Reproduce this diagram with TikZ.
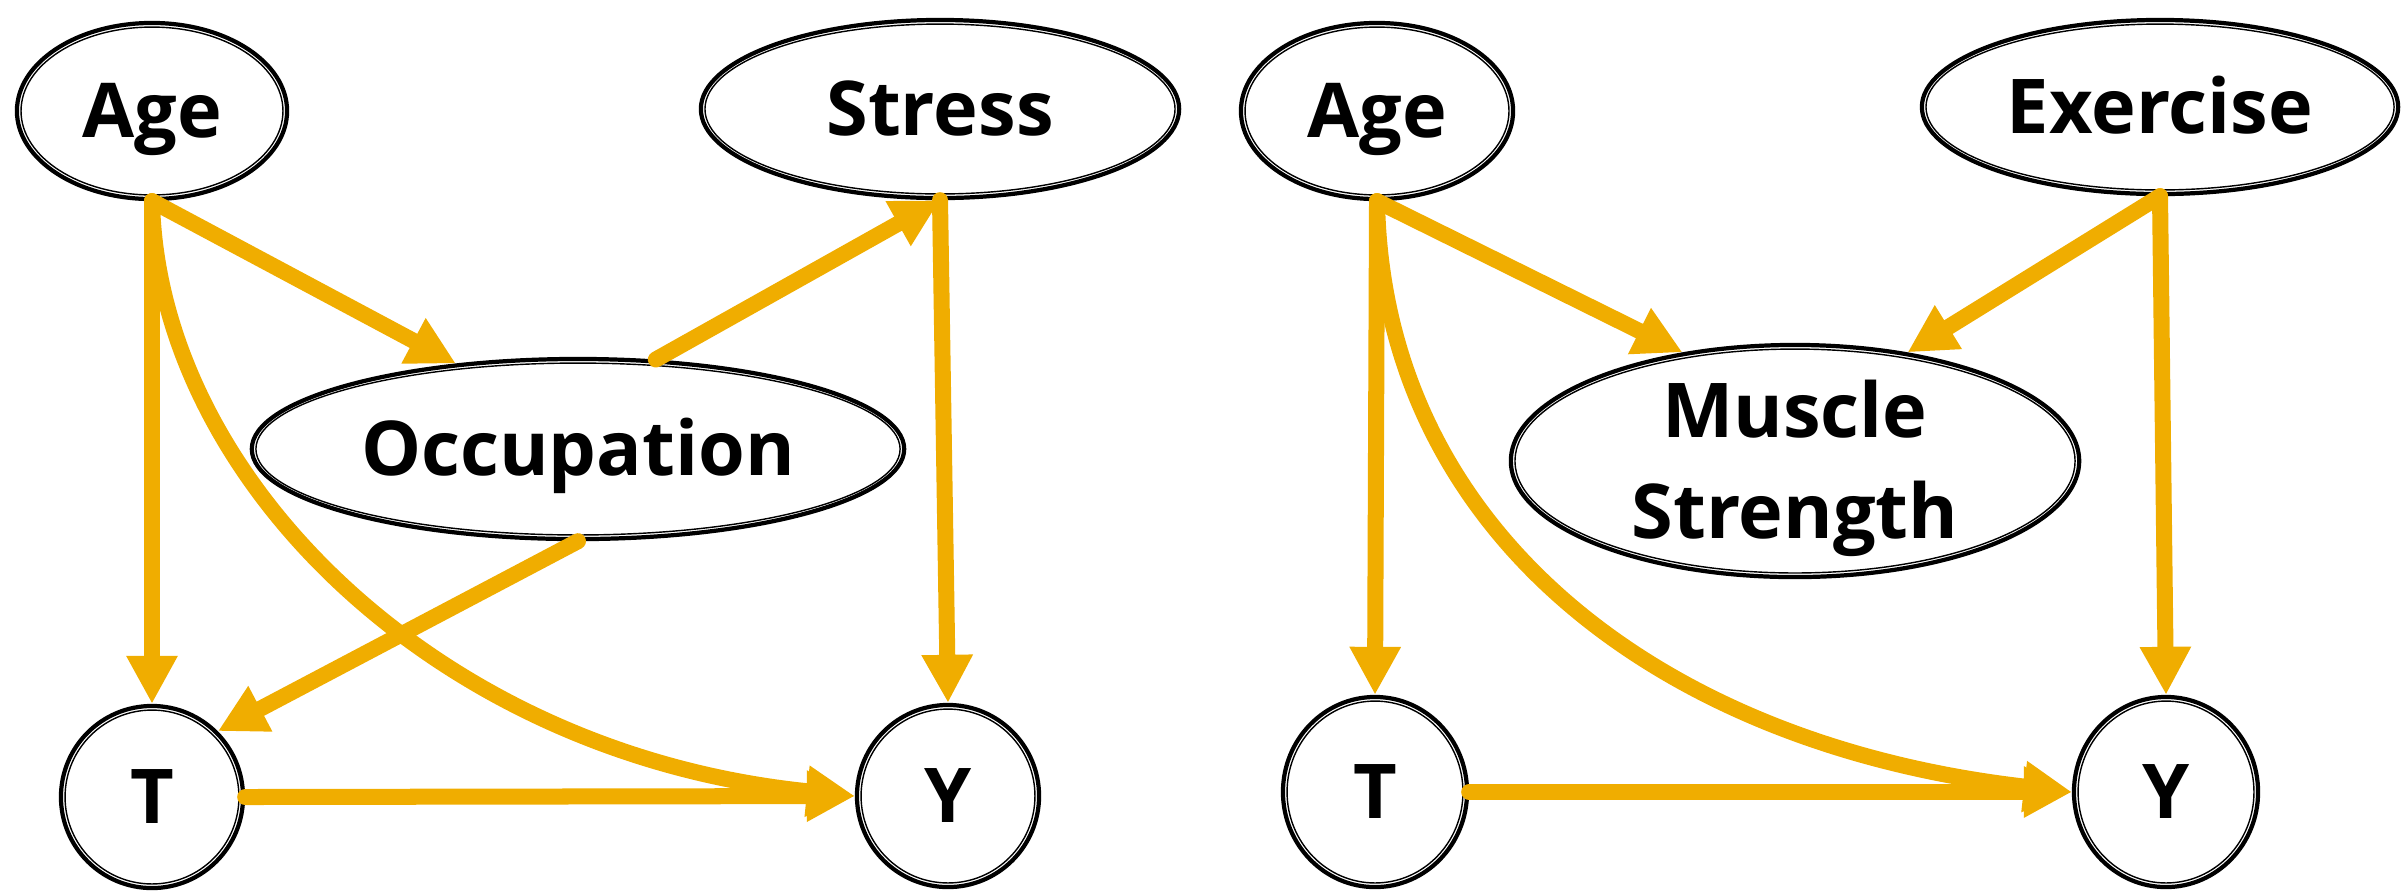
\documentclass[tikz,border=0pt]{standalone}
\usepackage{fontspec}
\setmainfont{Open Sans}
\usetikzlibrary{arrows.meta,shapes.geometric}
\definecolor{arr}{RGB}{240,173,0}
\tikzset{
 lbl/.style={font=\fontsize{21.5}{28.5}\selectfont\bfseries, align=center},
 nd/.style={ellipse, draw=black, line width=1.2pt, inner sep=0pt, lbl, text height=15.3pt, text depth=0pt},
 innerring/.style={draw=black, line width=0.4pt},
 arw/.style={draw=arr, line width=0.16cm, line cap=round, -{Triangle[width=0.48cm,length=0.48cm]}},
}
\newcommand\dnode[7][]{%
 \node[nd, minimum width={2*#5cm}, minimum height={2*#6cm}, #1] (#2) at (#3,#4) {#7};
 \draw[innerring] (#2.center) ellipse ({#5cm-0.041cm} and {#6cm-0.041cm});
}
\begin{document}
\begin{tikzpicture}[x=0.01cm,y=-0.01cm]
\useasboundingbox (0,0) rectangle (2404,893);
% left panel
\dnode{age}{152}{111}{1.35}{0.88}{Age}
\dnode{stress}{940}{109}{2.39}{0.89}{Stress}
\dnode{occ}{578}{449}{3.26}{0.90}{Occupation}
\dnode{T}{152}{797}{0.91}{0.91}{T}
\dnode{Y}{948}{796}{0.91}{0.91}{Y}
% right panel
\dnode{ageb}{1377}{111}{1.36}{0.88}{Age}
\dnode{ex}{2160}{107}{2.38}{0.87}{Exercise}
\dnode[label={[lbl, inner sep=0pt, yshift=-2.1pt]center:Muscle\\Strength}]{ms}{1795}{461}{2.84}{1.16}{}
\dnode{Tb}{1375}{792}{0.92}{0.95}{T}
\dnode{Yb}{2166}{792}{0.92}{0.95}{Y}
% left edges
\draw[arw] (age.south) -- (T.north);
\draw[arw] (age.south) -- (occ.145);
\draw[arw] (age.south) .. controls (158,476) and (435,754) .. (Y.west);
\draw[arw] (occ.49) -- (stress.south);
\draw[arw] (stress.south) -- (Y.north);
\draw[arw] (occ.south) -- (T.45);
\draw[arw] (T.east) -- (Y.west);
% right edges
\draw[arw] (ageb.south) -- (Tb.north);
\draw[arw] (ageb.south) -- (ms.136);
\draw[arw] (ageb.south) .. controls (1383,530) and (1658,745) .. (Yb.west);
\draw[arw] (ex.south) -- (ms.44);
\draw[arw] (ex.south) -- (Yb.north);
\draw[arw] (Tb.east) -- (Yb.west);
\end{tikzpicture}
\end{document}
